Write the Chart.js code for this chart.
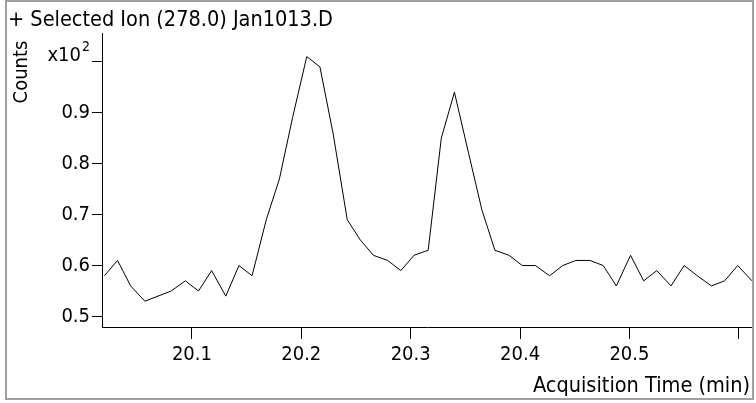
<!DOCTYPE html>
<html>
<head>
<meta charset="utf-8">
<script src="https://cdn.jsdelivr.net/npm/chart.js@4.4.0/dist/chart.umd.min.js"></script>
<style>
  html, body { margin: 0; padding: 0; background: #fff; }
  #wrap { width: 756px; height: 403px; position: relative; }
</style>
</head>
<body>
<div id="wrap"><canvas id="eic" role="img" aria-label="Selected ion chromatogram 278.0"></canvas></div>
<script>
const TITLE  = '+ Selected Ion (278.0) Jan1013.D';
const XTITLE = 'Acquisition Time (min)';
const YTITLE = 'Counts';

// acquisition time (min)
const times = [
  20.020, 20.032, 20.044, 20.057, 20.069, 20.081, 20.094, 20.106, 20.118, 20.131,
  20.143, 20.155, 20.168, 20.180, 20.192, 20.205, 20.217, 20.229, 20.242, 20.254,
  20.266, 20.279, 20.291, 20.303, 20.316, 20.328, 20.340, 20.353, 20.365, 20.377,
  20.390, 20.402, 20.414, 20.427, 20.439, 20.451, 20.464, 20.476, 20.488, 20.501,
  20.513, 20.525, 20.538, 20.550, 20.562, 20.575, 20.587, 20.599, 20.612
];
// counts x10^2
const counts = [
  0.58, 0.61, 0.56, 0.53, 0.54, 0.55, 0.57, 0.55, 0.59, 0.54,
  0.60, 0.58, 0.69, 0.77, 0.89, 1.01, 0.99, 0.86, 0.69, 0.65,
  0.62, 0.61, 0.59, 0.62, 0.63, 0.85, 0.94, 0.82, 0.71, 0.63,
  0.62, 0.60, 0.60, 0.58, 0.60, 0.61, 0.61, 0.60, 0.56, 0.62,
  0.57, 0.59, 0.56, 0.60, 0.58, 0.56, 0.57, 0.60, 0.57
];

const xTicks = [20.1, 20.2, 20.3, 20.4, 20.5, 20.6];
const yTicks = [0.5, 0.6, 0.7, 0.8, 0.9, 1.0];

const FONT = "'DejaVu Sans Condensed', 'Liberation Sans', sans-serif";

// frame, title and axis captions
const decor = {
  id: 'decor',
  afterDraw(chart) {
    const ctx = chart.ctx;
    const ya  = chart.scales.y;
    ctx.save();
    ctx.strokeStyle = '#a0a0a0';
    ctx.lineWidth = 2;
    ctx.strokeRect(6, 1, 747, 398);

    ctx.fillStyle = '#000';
    ctx.textBaseline = 'alphabetic';
    ctx.font = '21.5px ' + FONT;
    ctx.textAlign = 'left';
    ctx.fillText(TITLE, 8, 26);

    ctx.textAlign = 'right';
    ctx.fillText(XTITLE, 750, 392);

    // x10^2 next to top tick
    const yTop = ya.getPixelForValue(1.0);
    ctx.font = '14px ' + FONT;
    ctx.textAlign = 'right';
    ctx.fillText('2', 90, yTop - 11);
    ctx.font = '20px ' + FONT;
    ctx.fillText('x10', 81, yTop - 1);

    // rotated y caption
    ctx.translate(27, 72);
    ctx.rotate(-Math.PI / 2);
    ctx.textAlign = 'center';
    ctx.fillText(YTITLE, 0, 0);
    ctx.restore();
  }
};

new Chart(document.getElementById('eic'), {
  type: 'line',
  data: {
    datasets: [{
      data: times.map((t, i) => ({ x: t, y: counts[i] })),
      borderColor: '#000',
      borderWidth: 1,
      pointRadius: 0,
      tension: 0,
      fill: false,
      clip: false
    }]
  },
  options: {
    responsive: true,
    maintainAspectRatio: false,
    animation: false,
    layout: { padding: { left: 0, top: 33, right: 3.5, bottom: 0 } },
    plugins: { legend: { display: false }, tooltip: { enabled: false } },
    scales: {
      x: {
        type: 'linear',
        min: 20.0178,
        max: 20.6125,
        afterBuildTicks: s => { s.ticks = xTicks.map(v => ({ value: v })); },
        afterFit: s => { s.height = 76; },
        border: { display: true, color: '#000', width: 1 },
        grid: { drawOnChartArea: false, drawTicks: true, tickLength: 12, color: '#000' },
        ticks: {
          color: '#000',
          font: { family: FONT, size: 20 },
          padding: 4,
          maxRotation: 0,
          callback: v => Math.abs(v - 20.6) < 1e-6 ? '' : v.toFixed(1)
        }
      },
      y: {
        type: 'linear',
        min: 0.4794,
        max: 1.0563,
        afterBuildTicks: s => { s.ticks = yTicks.map(v => ({ value: v })); },
        afterFit: s => { s.width = 102; },
        border: { display: true, color: '#000', width: 1 },
        grid: { drawOnChartArea: false, drawTicks: true, tickLength: 10, color: '#000' },
        ticks: {
          color: '#000',
          font: { family: FONT, size: 20 },
          padding: 2,
          callback: v => Math.abs(v - 1.0) < 1e-6 ? '' : v.toFixed(1)
        }
      }
    }
  },
  plugins: [decor]
});
</script>
</body>
</html>
